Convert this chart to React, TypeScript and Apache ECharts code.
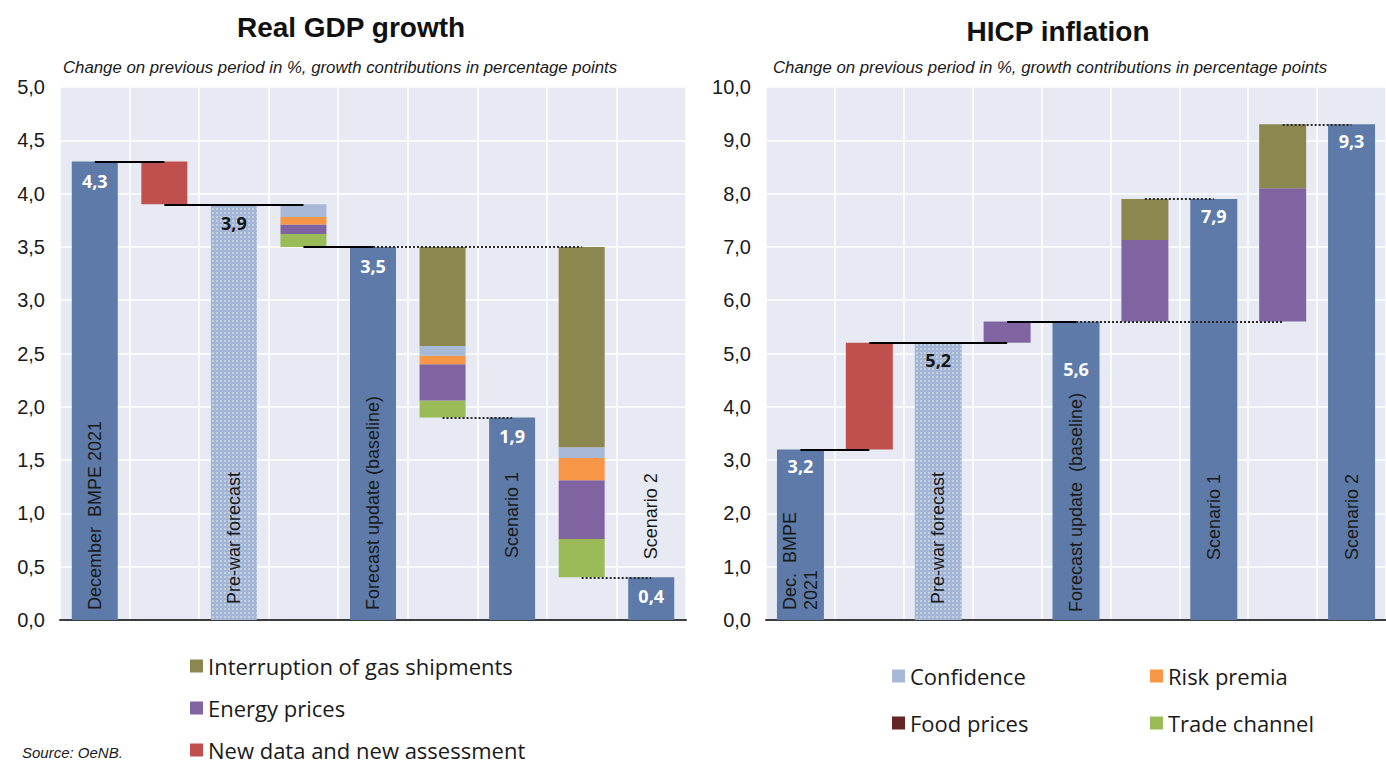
import React, { useEffect, useRef } from "react";
import * as echarts from "echarts";

// ---- Real GDP growth (left panel) ----
const gdpCategories = [
  "December  BMPE 2021",
  "Revision",
  "Pre-war forecast",
  "War impact",
  "Forecast update (baseline)",
  "Scenario 1 impact",
  "Scenario 1",
  "Scenario 2 impact",
  "Scenario 2",
];
const gdpTotals = [4.3, null, 3.9, null, 3.5, null, 1.9, null, 0.4];
const gdpStepFrom = [null, 4.3, null, 3.9, null, 3.5, null, 3.5, null];
const gdpNewData = [null, -0.4, null, null, null, null, null, null, null];
const gdpConfidence = [null, null, null, -0.12, null, -0.09, null, -0.1, null];
const gdpRiskPremia = [null, null, null, -0.07, null, -0.08, null, -0.21, null];
const gdpEnergy = [null, null, null, -0.09, null, -0.34, null, -0.55, null];
const gdpTrade = [null, null, null, -0.12, null, -0.16, null, -0.36, null];
const gdpFood = [null, null, null, null, null, null, null, null, null];
const gdpGas = [null, null, null, null, null, -0.93, null, -1.88, null];
const gdpTicks = { min: 0, max: 5, interval: 0.5 };

// ---- HICP inflation (right panel) ----
const hicpCategories = [
  "Dec.  BMPE\n2021",
  "Revision",
  "Pre-war forecast",
  "War impact",
  "Forecast update  (baseline)",
  "Scenario 1 impact",
  "Scenario 1",
  "Scenario 2 impact",
  "Scenario 2",
];
const hicpTotals = [3.2, null, 5.2, null, 5.6, null, 7.9, null, 9.3];
const hicpStepFrom = [null, 3.2, null, 5.2, null, 5.6, null, 5.6, null];
const hicpNewData = [null, 2.0, null, null, null, null, null, null, null];
const hicpConfidence = [null, null, null, null, null, null, null, null, null];
const hicpRiskPremia = [null, null, null, null, null, null, null, null, null];
const hicpEnergy = [null, null, null, 0.4, null, 1.53, null, 2.5, null];
const hicpTrade = [null, null, null, null, null, null, null, null, null];
const hicpFood = [null, null, null, null, null, null, null, null, null];
const hicpGas = [null, null, null, null, null, 0.77, null, 1.2, null];
const hicpTicks = { min: 0, max: 10, interval: 1 };

const PREWAR_INDEX = 2;

const FONT = 'Arial, "Liberation Sans", Helvetica, sans-serif';
const LEGEND_FONT = '"Open Sans", "Noto Sans", sans-serif';

const COLORS = {
  total: "#5d7aa8",
  prewar: "#a3b5d4",
  newData: "#c0504d",
  gas: "#8c864f",
  energy: "#8064a2",
  confidence: "#a8b9d8",
  risk: "#f79646",
  food: "#632523",
  trade: "#9bbb59",
  plotBg: "#e7eaf2",
  text: "#1a1a1a",
};

const fmt = (v: number) => v.toFixed(1).replace(".", ",");

type Part = { name: string; color: string; values: (number | null)[] };
type Connector = { from: number; to: number; level: number; dotted: boolean };
type NameLabel = { pos: "insideBottom" | "top"; dist: number };

function panelSeries(
  k: number,
  stackId: string,
  categories: string[],
  totals: (number | null)[],
  stepFrom: (number | null)[],
  parts: Part[],
  connectors: Connector[],
  valueLabelDist: number[],
  nameLabels: NameLabel[],
  barWidth: number
) {
  const base = stepFrom.map((from, i) => {
    if (from == null) return "-";
    const sum = parts.reduce((s, p) => s + (p.values[i] ?? 0), 0);
    return Math.min(from, from + sum);
  });

  const common = {
    type: "bar",
    xAxisIndex: k,
    yAxisIndex: k,
    barWidth,
    barGap: "-100%",
    silent: true,
  };

  const series: any[] = [
    {
      ...common,
      name: `${stackId}-base`,
      stack: stackId,
      itemStyle: { color: "transparent" },
      data: base,
      z: 2,
      markLine: {
        symbol: ["none", "none"],
        silent: true,
        animation: false,
        label: { show: false },
        data: connectors.map((c) => [
          {
            coord: [c.from, c.level],
            lineStyle: c.dotted
              ? { color: "#2a2a2a", width: 2, type: [2, 2] }
              : { color: "#000000", width: 2, type: "solid" },
          },
          { coord: [c.to, c.level] },
        ]),
      },
    },
  ];

  parts.forEach((p) => {
    series.push({
      ...common,
      name: p.name,
      stack: stackId,
      itemStyle: { color: p.color },
      data: p.values.map((v) => (v == null ? "-" : Math.abs(v))),
    });
  });

  series.push({
    ...common,
    name: `${stackId}-totals`,
    data: totals.map((v, i) => {
      if (v == null) return "-";
      const prewar = i === PREWAR_INDEX;
      return {
        value: v,
        itemStyle: prewar
          ? {
              color: COLORS.prewar,
              decal: {
                color: "rgba(255,255,255,0.35)",
                symbol: "rect",
                symbolSize: 1,
                dashArrayX: [2, 2],
                dashArrayY: [2, 2],
                rotation: 0,
              },
            }
          : { color: COLORS.total },
        label: {
          show: true,
          position: "insideTop",
          distance: valueLabelDist[i],
          formatter: () => fmt(v),
          color: prewar ? "#151515" : "#ffffff",
          fontFamily: LEGEND_FONT,
          fontWeight: "bold",
          fontSize: 18,
        },
      };
    }),
  });

  series.push({
    ...common,
    name: `${stackId}-names`,
    itemStyle: { color: "transparent" },
    z: 5,
    data: totals.map((v, i) => {
      if (v == null) return "-";
      const nl = nameLabels[i];
      return {
        value: v,
        label: {
          show: true,
          position: nl.pos,
          distance: nl.dist,
          rotate: 90,
          align: "left",
          verticalAlign: "middle",
          formatter: () => categories[i],
          color: COLORS.text,
          fontFamily: FONT,
          fontSize: 18,
          lineHeight: 21,
        },
      };
    }),
  });

  return series;
}

function connectorsFor(totals: (number | null)[]): Connector[] {
  // Solid steps up to the baseline, dotted lines for the two scenarios
  return [
    { from: 0, to: 1, level: totals[0] as number, dotted: false },
    { from: 1, to: 3, level: totals[2] as number, dotted: false },
    { from: 3, to: 4, level: totals[4] as number, dotted: false },
    { from: 4, to: 7, level: totals[4] as number, dotted: true },
    { from: 5, to: 6, level: totals[6] as number, dotted: true },
    { from: 7, to: 8, level: totals[8] as number, dotted: true },
  ];
}

function partsFor(
  trade: (number | null)[],
  energy: (number | null)[],
  risk: (number | null)[],
  confidence: (number | null)[],
  gas: (number | null)[],
  newData: (number | null)[],
  food: (number | null)[]
): Part[] {
  return [
    { name: "Trade channel", color: COLORS.trade, values: trade },
    { name: "Energy prices", color: COLORS.energy, values: energy },
    { name: "Risk premia", color: COLORS.risk, values: risk },
    { name: "Confidence", color: COLORS.confidence, values: confidence },
    { name: "Interruption of gas shipments", color: COLORS.gas, values: gas },
    { name: "New data and new assessment", color: COLORS.newData, values: newData },
    { name: "Food prices", color: COLORS.food, values: food },
  ];
}

function axes(k: number, ticks: { min: number; max: number; interval: number }) {
  const x = {
    type: "category",
    gridIndex: k,
    data: (k === 0 ? gdpCategories : hicpCategories).map((_, i) => String(i)),
    axisLabel: { show: false, interval: 0 },
    axisTick: { show: false },
    axisLine: { show: true, lineStyle: { color: "#3c3c3c", width: 2 } },
    splitLine: { show: true, interval: 0, lineStyle: { color: "#ffffff", width: 1.5 } },
  };
  const y = {
    type: "value",
    gridIndex: k,
    min: ticks.min,
    max: ticks.max,
    interval: ticks.interval,
    axisLine: { show: false },
    axisTick: { show: false },
    axisLabel: {
      formatter: (v: number) => fmt(v),
      color: COLORS.text,
      fontFamily: FONT,
      fontSize: 20,
      margin: 15,
    },
    splitLine: { show: true, lineStyle: { color: "#ffffff", width: 1.5 } },
  };
  return { x, y };
}

const legendText = {
  fontFamily: LEGEND_FONT,
  fontSize: 22,
  color: COLORS.text,
  lineHeight: 22,
};

const legendBase = {
  orient: "vertical",
  icon: "rect",
  itemWidth: 13,
  itemHeight: 13,
  padding: 0,
  selectedMode: false,
  textStyle: legendText,
  height: 108,
};

export default function App() {
  const ref = useRef<HTMLDivElement>(null);

  useEffect(() => {
    if (!ref.current) return;
    const chart = echarts.init(ref.current, null, { renderer: "svg" });

    const gdpAxes = axes(0, gdpTicks);
    const hicpAxes = axes(1, hicpTicks);

    const gdpSeries = panelSeries(
      0,
      "gdp",
      gdpCategories,
      gdpTotals,
      gdpStepFrom,
      partsFor(gdpTrade, gdpEnergy, gdpRiskPremia, gdpConfidence, gdpGas, gdpNewData, gdpFood),
      connectorsFor(gdpTotals),
      [10, 0, 10, 0, 10, 0, 10, 0, 10],
      [
        { pos: "insideBottom", dist: 10 },
        { pos: "insideBottom", dist: 10 },
        { pos: "insideBottom", dist: 16 },
        { pos: "insideBottom", dist: 10 },
        { pos: "insideBottom", dist: 10 },
        { pos: "insideBottom", dist: 10 },
        { pos: "insideBottom", dist: 62 },
        { pos: "insideBottom", dist: 10 },
        { pos: "top", dist: 18 },
      ],
      46
    );

    const hicpSeries = panelSeries(
      1,
      "hicp",
      hicpCategories,
      hicpTotals,
      hicpStepFrom,
      partsFor(hicpTrade, hicpEnergy, hicpRiskPremia, hicpConfidence, hicpGas, hicpNewData, hicpFood),
      connectorsFor(hicpTotals),
      [8, 0, 8, 0, 38, 0, 8, 0, 8],
      [
        { pos: "insideBottom", dist: 10 },
        { pos: "insideBottom", dist: 10 },
        { pos: "insideBottom", dist: 16 },
        { pos: "insideBottom", dist: 10 },
        { pos: "insideBottom", dist: 8 },
        { pos: "insideBottom", dist: 10 },
        { pos: "insideBottom", dist: 60 },
        { pos: "insideBottom", dist: 10 },
        { pos: "insideBottom", dist: 60 },
      ],
      47
    );

    chart.setOption({
      animation: false,
      backgroundColor: "#ffffff",
      grid: [
        {
          left: 60,
          top: 87,
          width: 626,
          height: 533,
          show: true,
          backgroundColor: COLORS.plotBg,
          borderWidth: 0,
        },
        {
          left: 766,
          top: 87,
          width: 636,
          height: 533,
          show: true,
          backgroundColor: COLORS.plotBg,
          borderWidth: 0,
        },
      ],
      xAxis: [gdpAxes.x, hicpAxes.x],
      yAxis: [gdpAxes.y, hicpAxes.y],
      legend: [
        {
          ...legendBase,
          data: ["Interruption of gas shipments", "Energy prices", "New data and new assessment"],
          left: 190,
          top: 655,
          itemGap: 20,
        },
        {
          ...legendBase,
          data: ["Confidence", "Food prices"],
          left: 892,
          top: 665,
          itemGap: 25,
        },
        {
          ...legendBase,
          data: ["Risk premia", "Trade channel"],
          left: 1150,
          top: 665,
          itemGap: 25,
        },
      ],
      graphic: [
        {
          type: "text",
          x: 351,
          y: 27,
          style: {
            text: "Real GDP growth",
            fontFamily: FONT,
            fontSize: 28,
            fontWeight: "bold",
            fill: "#111111",
            align: "center",
            verticalAlign: "middle",
          },
        },
        {
          type: "text",
          x: 1058,
          y: 31,
          style: {
            text: "HICP inflation",
            fontFamily: FONT,
            fontSize: 28,
            fontWeight: "bold",
            fill: "#111111",
            align: "center",
            verticalAlign: "middle",
          },
        },
        {
          type: "text",
          x: 63,
          y: 67,
          style: {
            text: "Change on previous period in %, growth contributions in percentage points",
            fontFamily: FONT,
            fontSize: 16.8,
            fontStyle: "italic",
            fill: COLORS.text,
            align: "left",
            verticalAlign: "middle",
          },
        },
        {
          type: "text",
          x: 773,
          y: 67,
          style: {
            text: "Change on previous period in %, growth contributions in percentage points",
            fontFamily: FONT,
            fontSize: 16.8,
            fontStyle: "italic",
            fill: COLORS.text,
            align: "left",
            verticalAlign: "middle",
          },
        },
        {
          type: "text",
          x: 22,
          y: 752,
          style: {
            text: "Source: OeNB.",
            fontFamily: FONT,
            fontSize: 15,
            fontStyle: "italic",
            fill: COLORS.text,
            align: "left",
            verticalAlign: "middle",
          },
        },
      ],
      series: [...gdpSeries, ...hicpSeries],
    });

    return () => chart.dispose();
  }, []);

  return (
    <div
      ref={ref}
      style={{ position: "absolute", left: 0, top: 0, width: 1386, height: 765, overflow: "hidden" }}
    />
  );
}
